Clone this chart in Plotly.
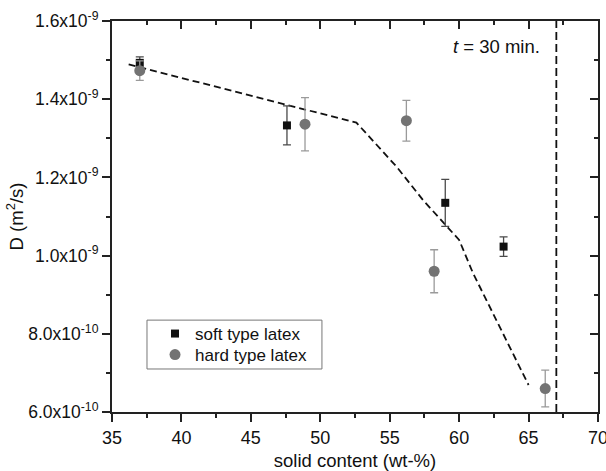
import plotly.graph_objects as go

# soft type latex (squares)
soft_x = [37.0, 47.6, 59.0, 63.2]
soft_y = [1.493e-9, 1.333e-9, 1.135e-9, 1.023e-9]
soft_err = [0.015e-9, 0.050e-9, 0.060e-9, 0.025e-9]

# hard type latex (circles)
hard_x = [37.0, 48.9, 56.2, 58.2, 66.2]
hard_y = [1.473e-9, 1.336e-9, 1.345e-9, 0.960e-9, 0.660e-9]
hard_err = [0.025e-9, 0.068e-9, 0.052e-9, 0.055e-9, 0.047e-9]

# dashed guide curve
fit_x = [36.2, 52.6, 53.3, 55.5, 57.4, 59.1, 60.0, 61.0, 62.9, 65.0]
fit_y = [1.489e-9, 1.340e-9, 1.313e-9, 1.227e-9, 1.142e-9, 1.074e-9, 1.040e-9, 0.955e-9, 0.818e-9, 0.669e-9]

# vertical marker
vline_x = 67.0
vline_label = "<i>t</i> = 30 min."

x_ticks = [35, 40, 45, 50, 55, 60, 65, 70]
y_ticks = [6e-10, 8e-10, 1.0e-9, 1.2e-9, 1.4e-9, 1.6e-9]
y_ticklabels = ["6.0x10<sup>-10</sup>", "8.0x10<sup>-10</sup>", "1.0x10<sup>-9</sup>",
                "1.2x10<sup>-9</sup>", "1.4x10<sup>-9</sup>", "1.6x10<sup>-9</sup>"]

x_range = [35, 70]
y_range = [6e-10, 1.6e-9]

FONT = "Liberation Sans, Arial, sans-serif"
AX = "#222222"

fig = go.Figure()

fig.add_trace(go.Scatter(
    x=fit_x, y=fit_y, mode="lines", showlegend=False,
    line=dict(color="#111111", width=1.8, dash="7px,4px"), hoverinfo="skip"))

fig.add_trace(go.Scatter(
    x=[vline_x, vline_x], y=y_range, mode="lines", showlegend=False,
    line=dict(color="#111111", width=1.8, dash="8px,4px"), hoverinfo="skip"))

fig.add_trace(go.Scatter(
    x=soft_x, y=soft_y, mode="markers", name="soft type latex", legend="legend",
    marker=dict(symbol="square", size=8, color="#111111"),
    error_y=dict(type="data", array=soft_err, visible=True, color="#4a4a4a",
                 thickness=1.3, width=4)))

fig.add_trace(go.Scatter(
    x=hard_x, y=hard_y, mode="markers", name="hard type latex", legend="legend2",
    marker=dict(symbol="circle", size=11, color="#737373"),
    error_y=dict(type="data", array=hard_err, visible=True, color="#9a9a9a",
                 thickness=1.3, width=4)))

# invisible trace to activate secondary (mirror) axes
fig.add_trace(go.Scatter(x=x_range, y=y_range, xaxis="x2", yaxis="y2",
                         mode="lines", line=dict(color="rgba(0,0,0,0)", width=1),
                         showlegend=False, hoverinfo="skip"))

fig.add_annotation(x=65.94, y=1.535e-9, text=vline_label, showarrow=False,
                   xanchor="right", yanchor="middle",
                   font=dict(family=FONT, size=18.5, color="#111111"))

# legend frame
fig.add_shape(type="rect", xref="paper", yref="paper",
              x0=0.072, x1=0.432, y0=0.110, y1=0.235,
              line=dict(color="#777777", width=1), fillcolor="rgba(0,0,0,0)",
              layer="below")

common = dict(showgrid=False, zeroline=False, linecolor=AX, linewidth=2,
              tickcolor=AX, tickwidth=1.5, ticklen=8, automargin=False)

leg_common = dict(xanchor="left", yanchor="middle", bgcolor="rgba(0,0,0,0)",
                  borderwidth=0, font=dict(size=17), itemwidth=30)

fig.update_layout(
    template="none",
    width=606, height=471, autosize=False,
    margin=dict(l=112, r=8, t=21, b=59, autoexpand=False),
    paper_bgcolor="white", plot_bgcolor="white",
    font=dict(family=FONT, size=17, color="#111111"),
    xaxis=dict(range=x_range, tickvals=x_ticks, ticks="outside",
               showline=True, mirror=True, ticklabeloverflow="allow",
               minor=dict(ticks="outside", dtick=2.5, tick0=35, ticklen=4,
                          tickcolor=AX, tickwidth=1.5),
               title=dict(text="solid content (wt-%)", standoff=10,
                          font=dict(size=18.5)),
               tickfont=dict(size=18), **common),
    yaxis=dict(range=y_range, tickvals=y_ticks, ticktext=y_ticklabels,
               ticks="outside", showline=True, mirror=True,
               ticklabeloverflow="allow",
               minor=dict(ticks="outside", dtick=1e-10, tick0=6e-10, ticklen=4,
                          tickcolor=AX, tickwidth=1.5),
               title=dict(text="D (m<sup>2</sup>/s)", standoff=0,
                          font=dict(size=18.5)),
               tickfont=dict(size=17.5), **common),
    xaxis2=dict(range=x_range, overlaying="x", side="top", anchor="y2",
                tickvals=x_ticks, ticks="inside", showticklabels=False,
                showline=True,
                minor=dict(ticks="inside", dtick=2.5, tick0=35, ticklen=4,
                           tickcolor=AX, tickwidth=1.5),
                **common),
    yaxis2=dict(range=y_range, overlaying="y", side="right", anchor="x2",
                tickvals=y_ticks, ticks="inside", showticklabels=False,
                showline=True,
                minor=dict(ticks="inside", dtick=1e-10, tick0=6e-10, ticklen=4,
                           tickcolor=AX, tickwidth=1.5),
                **common),
    legend=dict(x=0.0885, y=0.1995, **leg_common),
    legend2=dict(x=0.0885, y=0.1458, **leg_common),
    showlegend=True,
)

fig.write_html("out.html",
               config={"displayModeBar": False},
               post_script="document.body.style.margin='0';"
                           "document.body.style.overflow='hidden';")
